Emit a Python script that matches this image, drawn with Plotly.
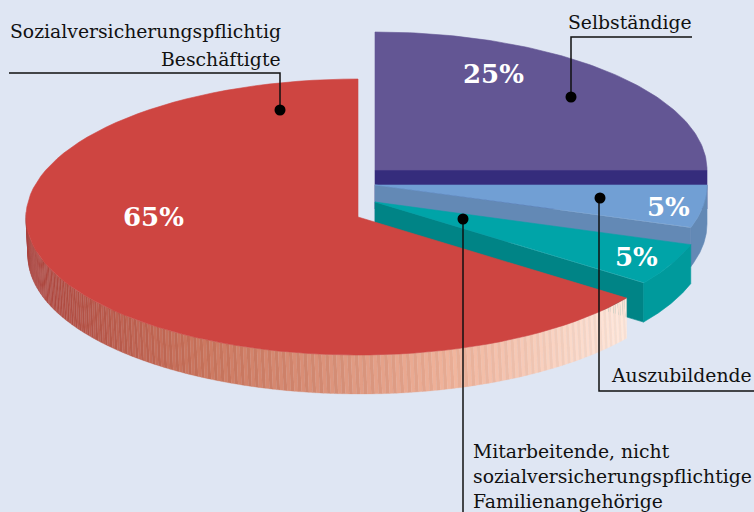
import math
import plotly.graph_objects as go

# ---- data (counter-clockwise from 12 o'clock) ----
categories = ["Sozialversicherungspflichtig Beschäftigte",
              "Mitarbeitende, nicht sozialversicherungspflichtige Familienangehörige",
              "Auszubildende", "Selbständige"]
shares = [65, 5, 5, 25]
share_labels = ["65%", "5%", "5%", "25%"]

# ---- projection / style ----
W, H = 754, 512
RX, RY, DEPTH = 332, 138, 39
CENTERS = [(358, 217), (375, 202), (375, 185), (375, 170)]
TOP = ["#ce4541", "#00a4a8", "#719fd4", "#635694"]
CUT = ["#ce4541", "#008486", "#6389b5", "#352c7c"]
OUTER = [None, "#009a9c", "#6389b5", "#352c7c"]
BG = "#dfe6f3"
SERIF = "DejaVu Serif"

angles = [90.0]
for s in shares:
    angles.append(angles[-1] + s / sum(shares) * 360)


def pt(c, deg, dz=0):
    t = math.radians(deg)
    return c[0] + RX * math.cos(t), c[1] - RY * math.sin(t) + dz


def arc(c, a0, a1, dz=0, n=90):
    return [pt(c, a0 + (a1 - a0) * i / n, dz) for i in range(n + 1)]


fig = go.Figure()


def poly(points, color, lw=0.6):
    xs = [p[0] for p in points] + [points[0][0]]
    ys = [p[1] for p in points] + [points[0][1]]
    fig.add_trace(go.Scatter(x=xs, y=ys, mode="lines", fill="toself", fillcolor=color,
                             line=dict(width=lw, color=color), hoverinfo="skip",
                             showlegend=False))


def slice_walls(i):
    c, a0, a1 = CENTERS[i], angles[i], angles[i + 1]
    p = pt(c, a0)
    poly([c, p, (p[0], p[1] + DEPTH), (c[0], c[1] + DEPTH)], CUT[i])
    low0, low1 = a0, min(a1, 360)
    poly(arc(c, low0, low1) + arc(c, low1, low0, DEPTH), OUTER[i])


def slice_top(i):
    c = CENTERS[i]
    poly([c] + arc(c, angles[i], angles[i + 1]), TOP[i])


# Selbständige: dark face along its lower edge, then top
c = CENTERS[3]
p = pt(c, 360)
poly([c, p, (p[0], p[1] + DEPTH), (c[0], c[1] + DEPTH)], CUT[3])
slice_top(3)

# Auszubildende, then the family workers
slice_walls(2)
slice_top(2)
slice_walls(1)
slice_top(1)

# Red wall: shaded strips with a fine hatch
stops = [(25, (168, 66, 60)), (200, (196, 112, 88)), (330, (212, 140, 116)),
         (450, (232, 172, 148)), (630, (248, 226, 214))]


def wall_color(x, odd):
    for (x0, c0), (x1, c1) in zip(stops, stops[1:]):
        if x <= x1:
            f = max(0.0, (x - x0) / (x1 - x0))
            col = [a + (b - a) * f for a, b in zip(c0, c1)]
            break
    else:
        col = list(stops[-1][1])
    if odd:
        col = [min(255, v + 9) for v in col]
    return "rgb(%d,%d,%d)" % tuple(col)


c = CENTERS[0]
a_start, a_end = 178.0, angles[1]
e = pt(c, a_end)
N = 230
for k in range(N):
    a = a_start + (a_end - a_start) * k / N
    b = a_start + (a_end - a_start) * (k + 1) / N
    x0, y0 = pt(c, a)
    x1, y1 = pt(c, b)
    poly([(x0, y0), (x1, y1), (min(x1 + 2, e[0]), y1 + DEPTH), (min(x0 + 2, e[0]), y0 + DEPTH)],
         wall_color((x0 + x1) / 2, k % 2 == 1), 0.3)
slice_top(0)

shapes = []
for path in ["M9,73 L280,73 L280,110", "M692,37 L571,37 L571,97",
             "M599,198 L599,391 L754,391", "M463,219 L463,512"]:
    shapes.append(dict(type="path", path=path, line=dict(color="#111111", width=1.5), layer="above"))
for x, y in [(280, 110), (571, 97), (600, 198), (463, 219)]:
    shapes.append(dict(type="circle", x0=x - 5.5, x1=x + 5.5, y0=y - 5.5, y1=y + 5.5,
                       fillcolor="black", line=dict(width=0), layer="above"))

notes = []


def text(s, x, y, anchor="left", size=18.8, color="#111111"):
    notes.append(dict(text=s, x=x, y=y, xref="x", yref="y", xanchor=anchor, yanchor="middle",
                      showarrow=False, borderpad=0, borderwidth=0,
                      font=dict(family=SERIF, size=size, color=color), align=anchor))


text("Sozialversicherungspflichtig", 281, 31, "right")
text("Beschäftigte", 281, 59, "right")
text("Selbständige", 692, 22, "right")
text("Auszubildende", 752, 375, "right")
text("Mitarbeitende, nicht", 473, 451)
text("sozialversicherungspflichtige", 473, 476)
text("Familienangehörige", 473, 501)
for s, (x, y) in zip(share_labels, [(153, 217), (636, 257), (668, 207), (493, 74)]):
    text("<b>%s</b>" % s, x, y, "center", 26, "white")

fig.update_layout(width=W, height=H, margin=dict(l=0, r=0, t=0, b=0), paper_bgcolor=BG,
                  plot_bgcolor=BG, showlegend=False, shapes=shapes, annotations=notes,
                  xaxis=dict(range=[0, W], visible=False, fixedrange=True),
                  yaxis=dict(range=[H, 0], visible=False, fixedrange=True))
fig.write_html("out.html", config=dict(displayModeBar=False),
               post_script="document.body.style.margin='0';"
                           "document.documentElement.style.overflow='hidden';")
